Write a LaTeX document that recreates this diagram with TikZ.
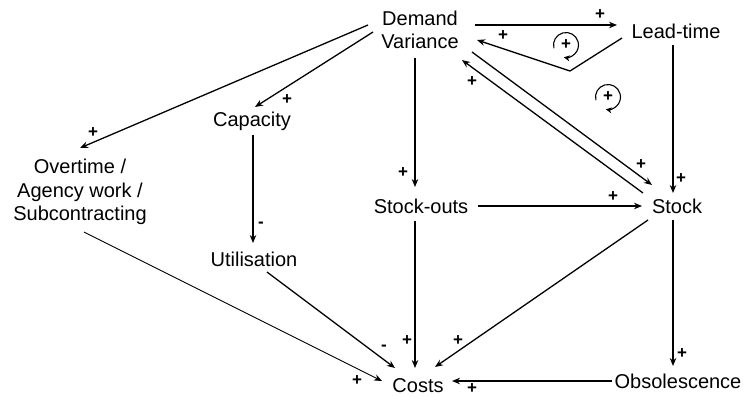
\documentclass[tikz,border=0pt]{standalone}
\usepackage{fontspec}
\setmainfont{Liberation Sans}
\usetikzlibrary{arrows.meta,calc}

\tikzset{
  var/.style={align=center,inner sep=0pt,font=\fontsize{20}{23.5}\selectfont},
  link/.style={-{Stealth[length=8pt,width=6.5pt]},line width=1.3pt},
  sgn/.style={inner sep=0pt,font=\fontsize{17}{17}\selectfont\bfseries},
}

\begin{document}
\begin{tikzpicture}[x=1pt,y=-1pt]
  \useasboundingbox (0,0) rectangle (743,397);
  % variables
  \node[var] (dv) at (420,30) {Demand\\Variance};
  \node[var] (lt) at (676,31) {Lead-time};
  \node[var] (cap) at (252,121) {Capacity};
  \node[var] (ot) at (80,192) {Overtime /\\Agency work /\\Subcontracting};
  \node[var] (so) at (421,206) {Stock-outs};
  \node[var] (st) at (677,206) {Stock};
  \node[var] (ut) at (254,259) {Utilisation};
  \node[var] (co) at (418,386) {Costs};
  \node[var] (ob) at (678,381) {Obsolescence};
  % links
  \draw[link] ([shift={(55,-5)}]dv.center) -- ([shift={(-59,-6)}]lt.center);
  \draw[link] ([shift={(-54,7)}]lt.center) -- ([shift={(-106,40)}]lt.center) -- ([shift={(57,10)}]dv.center);
  \draw[link] ([shift={(-47,2)}]dv.center) -- ([shift={(3,-14)}]cap.center);
  \draw[link] ([shift={(-52,-5)}]dv.center) -- ([shift={(0,-44)}]ot.center);
  \draw[link] ([shift={(-5,28)}]dv.center) -- ([shift={(-6,-19)}]so.center);
  \draw[link] ([shift={(52,22)}]dv.center) -- ([shift={(-25,-21)}]st.center);
  \draw[link] ([shift={(-34,-13)}]st.center) -- ([shift={(42,30)}]dv.center);
  \draw[link] ([shift={(-3,14)}]lt.center) -- ([shift={(-4,-13)}]st.center);
  \draw[link] ([shift={(1,14)}]cap.center) -- ([shift={(-1,-16)}]ut.center);
  \draw[link] ([shift={(57,0)}]so.center) -- ([shift={(-35,0)}]st.center);
  \draw[link] ([shift={(-6,15)}]so.center) -- ([shift={(-3,-18)}]co.center);
  \draw[link] ([shift={(13,13)}]ut.center) -- ([shift={(-23,-18)}]co.center);
  \draw[link,line width=.9pt] ([shift={(4,40)}]ot.center) -- ([shift={(-36,-5)}]co.center);
  \draw[link] ([shift={(-29,14)}]st.center) -- ([shift={(17,-19)}]co.center);
  \draw[link] ([shift={(-4,14)}]st.center) -- ([shift={(-5,-15)}]ob.center);
  \draw[link] ([shift={(-66,0)}]ob.center) -- ([shift={(34,-5)}]co.center);
  % polarities
  \foreach \n/\x/\y/\s in {pa/600/15/+,pb/503/36/+,pc/287/100/+,pd/93/133/+,
    pe/403/173/+,pf/641/165/+,pg/472/82/+,ph/681/179/+,pi/261/225/-,
    pj/613/197/+,pk/407/341/+,pl/384/348/-,pm/357/381/+,pn/458/341/+,
    po/682/354/+,pp/472/389/+}
    \node[sgn] (\n) at (\x,\y) {\s};
  % loops
  \foreach \n/\x/\y in {ra/566/45,rb/608/97} {
    \draw[line width=1.1pt,-{Stealth[length=6pt,width=6pt]}] (\x,\y) ++(195:12.5pt)
      arc[start angle=195,end angle=-100,radius=12.5pt];
    \node[sgn] (\n) at (\x,\y) {+};
  }
\end{tikzpicture}
\end{document}
